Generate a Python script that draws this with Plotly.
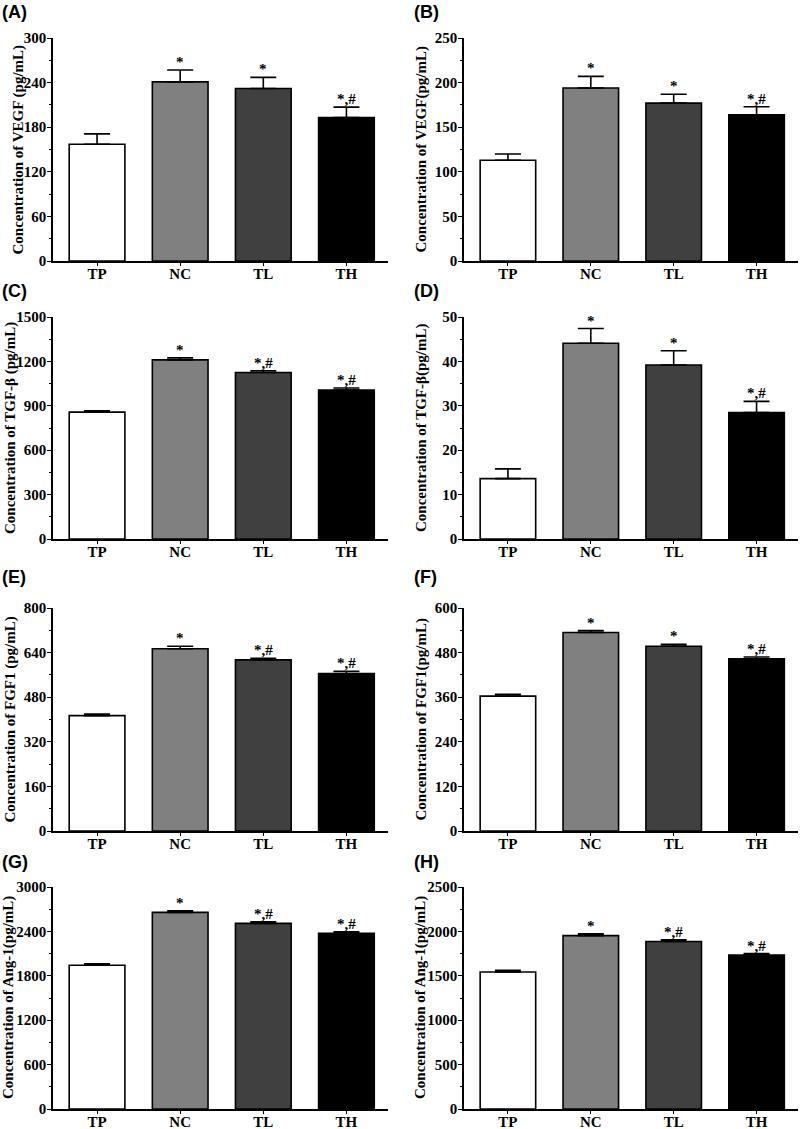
import plotly.graph_objects as go

groups = ["TP", "NC", "TL", "TH"]
bar_colors = ["#ffffff", "#808080", "#404040", "#000000"]

vegf_a_mean = [157, 241, 232, 193]
vegf_a_err = [14, 16, 15, 14]
vegf_b_mean = [113, 194, 177, 164]
vegf_b_err = [7, 13, 10, 9]
tgf_c_mean = [857, 1210, 1125, 1007]
tgf_c_err = [10, 14, 12, 13]
tgf_d_mean = [13.6, 44.1, 39.2, 28.5]
tgf_d_err = [2.2, 3.3, 3.2, 2.5]
fgf_e_mean = [414, 654, 614, 565]
fgf_e_err = [6, 9, 6, 8]
fgf_f_mean = [363, 534, 497, 463]
fgf_f_err = [5, 5, 5, 5]
ang_g_mean = [1942, 2657, 2508, 2373]
ang_g_err = [20, 22, 22, 22]
ang_h_mean = [1543, 1952, 1887, 1733]
ang_h_err = [18, 20, 18, 18]

sig_a = ["", "*", "*", "*,#"]
sig_b = ["", "*", "*", "*,#"]
sig_c = ["", "*", "*,#", "*,#"]
sig_d = ["", "*", "*", "*,#"]
sig_e = ["", "*", "*,#", "*,#"]
sig_f = ["", "*", "*", "*,#"]
sig_g = ["", "*", "*,#", "*,#"]
sig_h = ["", "*", "*,#", "*,#"]

panels = [
    ("(A)", "Concentration of VEGF (pg/mL)", vegf_a_mean, vegf_a_err, sig_a, 300, 60),
    ("(B)", "Concentration of VEGF(pg/mL)", vegf_b_mean, vegf_b_err, sig_b, 250, 50),
    ("(C)", "Concentration of TGF-β (pg/mL)", tgf_c_mean, tgf_c_err, sig_c, 1500, 300),
    ("(D)", "Concentration of TGF-β(pg/mL)", tgf_d_mean, tgf_d_err, sig_d, 50, 10),
    ("(E)", "Concentration of FGF1 (pg/mL)", fgf_e_mean, fgf_e_err, sig_e, 800, 160),
    ("(F)", "Concentration of FGF1(pg/mL)", fgf_f_mean, fgf_f_err, sig_f, 600, 120),
    ("(G)", "Concentration of Ang-1(pg/mL)", ang_g_mean, ang_g_err, sig_g, 3000, 600),
    ("(H)", "Concentration of Ang-1(pg/mL)", ang_h_mean, ang_h_err, sig_h, 2500, 500),
]

W, H = 800, 1129
col_px = [(53, 388), (464, 798)]
row_px = [(38, 261), (317, 539), (608, 831), (887, 1109)]
label_y_px = [12, 291, 577, 862]
label_x_px = [0, 412]
title_x_px = [18, 421, 10, 421, 10, 421, 8, 420]

SERIF = "Liberation Serif"
fig = go.Figure()
layout = dict(
    template="none",
    width=W, height=H, margin=dict(l=0, r=0, t=0, b=0),
    paper_bgcolor="white", plot_bgcolor="white", showlegend=False,
    annotations=[],
)

for i, (lab, ytitle, mean, err, sig, ymax, dtick) in enumerate(panels):
    r, c = divmod(i, 2)
    n = i + 1
    xa = "x" if n == 1 else f"x{n}"
    ya = "y" if n == 1 else f"y{n}"
    fig.add_trace(go.Bar(
        x=groups, y=mean, xaxis=xa, yaxis=ya,
        marker=dict(color=bar_colors, line=dict(color="black", width=1.6)),
        width=0.67,
        error_y=dict(type="data", symmetric=False, array=err,
                     arrayminus=[0] * len(err), color="black",
                     thickness=1.6, width=13),
    ))
    x0, x1 = col_px[c]
    yt, yb = row_px[r]
    xkey = "xaxis" if n == 1 else f"xaxis{n}"
    ykey = "yaxis" if n == 1 else f"yaxis{n}"
    layout[xkey] = dict(
        domain=[x0 / W, x1 / W], anchor=ya, range=[-0.53, 3.5],
        automargin=False,
        showline=True, linecolor="black", linewidth=1.6,
        ticks="outside", ticklen=3, tickwidth=1.2, tickcolor="black",
        ticklabelstandoff=-5,
        showgrid=False, zeroline=False,
        tickfont=dict(family=SERIF, size=15, color="black", weight="bold"),
    )
    layout[ykey] = dict(
        domain=[1 - yb / H, 1 - yt / H], anchor=xa, range=[0, ymax],
        automargin=False,
        tick0=0, dtick=dtick, showline=True, linecolor="black", linewidth=1.6,
        ticks="outside", ticklen=4, tickwidth=1.4, tickcolor="black",
        ticklabelstandoff=-2,
        minor=dict(ticks="outside", ticklen=2, dtick=dtick / 2, tickcolor="black", tickwidth=1),
        showgrid=False, zeroline=False,
        tickfont=dict(family=SERIF, size=15, color="black", weight="bold"),
    )
    layout["annotations"].append(dict(
        x=title_x_px[i] / W, y=1 - (yt + yb) / 2 / H, xref="paper", yref="paper",
        text=ytitle, textangle=-90, showarrow=False,
        xanchor="center", yanchor="middle",
        font=dict(family=SERIF, size=15, color="black", weight="bold"),
    ))
    for g, m, e, s in zip(groups, mean, err, sig):
        if s:
            layout["annotations"].append(dict(
                x=g, y=m + e, xref=xa, yref=ya, text=s, showarrow=False,
                yanchor="bottom", yshift=-2,
                font=dict(family=SERIF, size=15, color="black", weight="bold"),
            ))
    layout["annotations"].append(dict(
        x=label_x_px[c] / W, y=1 - label_y_px[r] / H, xref="paper", yref="paper",
        text=lab, showarrow=False, xanchor="left", yanchor="middle",
        font=dict(family="Liberation Sans", size=18, color="black", weight="bold"),
    ))

fig.update_layout(**layout)
fig.write_html(
    "out.html",
    config={"displayModeBar": False},
    post_script="document.body.style.margin='0';document.body.style.overflow='hidden';",
)
